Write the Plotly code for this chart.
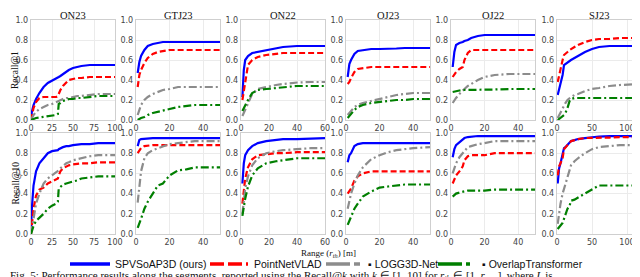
import plotly.graph_objects as go

SEGMENTS = ["ON23", "GTJ23", "ON22", "OJ23", "OJ22", "SJ23"]
METHODS = ["SPVSoAP3D (ours)", "PointNetVLAD", "LOGG3D-Net", "OverlapTransformer"]
X_RANGES = [100, 50, 60, 50, 50, 120]
X_DTICKS = [25, 20, 20, 20, 20, 50]

# ---- ON23 ----
ON23_x = [0, 1, 3, 6, 10, 15, 20, 25, 30, 32, 33, 35, 38, 42, 45, 50, 55, 60, 70, 80, 100]
ON23_r1_spv = [0, 0.08, 0.15, 0.21, 0.27, 0.33, 0.37, 0.39, 0.41, 0.42, 0.43, 0.44, 0.46, 0.48, 0.50, 0.52, 0.53, 0.54, 0.55, 0.55, 0.55]
ON23_r1_pnv = [0, 0.05, 0.12, 0.18, 0.22, 0.23, 0.23, 0.23, 0.23, 0.24, 0.26, 0.30, 0.34, 0.38, 0.40, 0.41, 0.42, 0.42, 0.43, 0.43, 0.43]
ON23_r1_logg = [0, 0.02, 0.05, 0.08, 0.11, 0.13, 0.15, 0.16, 0.18, 0.19, 0.19, 0.20, 0.21, 0.22, 0.22, 0.23, 0.24, 0.24, 0.25, 0.26, 0.26]
ON23_r1_ot = [0, 0.005, 0.01, 0.02, 0.025, 0.03, 0.04, 0.045, 0.05, 0.06, 0.16, 0.17, 0.19, 0.20, 0.21, 0.21, 0.22, 0.22, 0.23, 0.24, 0.24]
ON23_r10_spv = [0.02, 0.25, 0.48, 0.62, 0.70, 0.75, 0.80, 0.82, 0.83, 0.83, 0.84, 0.85, 0.86, 0.87, 0.87, 0.88, 0.885, 0.89, 0.89, 0.90, 0.90]
ON23_r10_pnv = [0, 0.08, 0.25, 0.38, 0.44, 0.46, 0.50, 0.52, 0.54, 0.55, 0.58, 0.62, 0.65, 0.67, 0.68, 0.69, 0.695, 0.70, 0.70, 0.71, 0.71]
ON23_r10_logg = [0, 0.05, 0.18, 0.30, 0.40, 0.50, 0.55, 0.58, 0.61, 0.62, 0.63, 0.65, 0.67, 0.70, 0.71, 0.73, 0.74, 0.75, 0.77, 0.78, 0.78]
ON23_r10_ot = [0, 0.03, 0.08, 0.13, 0.16, 0.20, 0.25, 0.28, 0.30, 0.32, 0.45, 0.47, 0.49, 0.50, 0.51, 0.52, 0.53, 0.55, 0.56, 0.57, 0.57]

# ---- GTJ23 ----
GTJ23_x = [1, 2, 3, 5, 7, 10, 13, 16, 20, 25, 30, 35, 40, 50]
GTJ23_r1_spv = [0.47, 0.58, 0.64, 0.70, 0.74, 0.76, 0.77, 0.78, 0.78, 0.78, 0.78, 0.78, 0.78, 0.78]
GTJ23_r1_pnv = [0.33, 0.45, 0.50, 0.57, 0.62, 0.66, 0.68, 0.69, 0.70, 0.70, 0.70, 0.70, 0.70, 0.70]
GTJ23_r1_logg = [0.05, 0.10, 0.15, 0.20, 0.23, 0.26, 0.28, 0.30, 0.31, 0.33, 0.33, 0.33, 0.33, 0.33]
GTJ23_r1_ot = [0.0, 0.01, 0.02, 0.03, 0.05, 0.07, 0.08, 0.09, 0.11, 0.13, 0.14, 0.15, 0.15, 0.15]
GTJ23_r10_spv = [0.87, 0.93, 0.94, 0.945, 0.95, 0.95, 0.95, 0.95, 0.95, 0.95, 0.95, 0.95, 0.95, 0.95]
GTJ23_r10_pnv = [0.80, 0.83, 0.85, 0.87, 0.875, 0.88, 0.88, 0.88, 0.88, 0.88, 0.88, 0.88, 0.88, 0.88]
GTJ23_r10_logg = [0.31, 0.50, 0.62, 0.75, 0.80, 0.83, 0.85, 0.87, 0.89, 0.90, 0.91, 0.92, 0.92, 0.92]
GTJ23_r10_ot = [0.06, 0.10, 0.15, 0.25, 0.32, 0.40, 0.48, 0.50, 0.58, 0.63, 0.64, 0.66, 0.66, 0.66]

# ---- ON22 ----
ON22_x = [1, 2, 3, 5, 8, 12, 18, 25, 30, 40, 50, 60]
ON22_r1_spv = [0.23, 0.50, 0.60, 0.64, 0.67, 0.68, 0.70, 0.72, 0.73, 0.74, 0.74, 0.74]
ON22_r1_pnv = [0.20, 0.30, 0.40, 0.55, 0.60, 0.63, 0.65, 0.66, 0.67, 0.67, 0.67, 0.67]
ON22_r1_logg = [0.04, 0.07, 0.10, 0.16, 0.26, 0.31, 0.33, 0.35, 0.36, 0.375, 0.38, 0.38]
ON22_r1_ot = [0.09, 0.12, 0.15, 0.20, 0.27, 0.30, 0.31, 0.32, 0.33, 0.34, 0.34, 0.34]
ON22_r10_spv = [0.50, 0.70, 0.78, 0.83, 0.87, 0.90, 0.92, 0.93, 0.94, 0.94, 0.945, 0.95]
ON22_r10_pnv = [0.30, 0.45, 0.55, 0.66, 0.74, 0.78, 0.79, 0.80, 0.80, 0.81, 0.81, 0.81]
ON22_r10_logg = [0.20, 0.35, 0.45, 0.57, 0.68, 0.75, 0.80, 0.82, 0.83, 0.84, 0.85, 0.85]
ON22_r10_ot = [0.18, 0.28, 0.35, 0.47, 0.58, 0.65, 0.70, 0.72, 0.73, 0.75, 0.75, 0.75]

# ---- OJ23 ----
OJ23_x = [1, 2, 3, 5, 7, 10, 15, 20, 25, 30, 35, 40, 50]
OJ23_r1_spv = [0.43, 0.56, 0.60, 0.66, 0.69, 0.70, 0.71, 0.71, 0.71, 0.715, 0.72, 0.72, 0.72]
OJ23_r1_pnv = [0.36, 0.38, 0.42, 0.48, 0.51, 0.52, 0.53, 0.53, 0.53, 0.53, 0.53, 0.53, 0.53]
OJ23_r1_logg = [0.05, 0.07, 0.10, 0.13, 0.15, 0.17, 0.19, 0.21, 0.23, 0.25, 0.26, 0.27, 0.27]
OJ23_r1_ot = [0.02, 0.04, 0.07, 0.10, 0.13, 0.15, 0.17, 0.18, 0.19, 0.20, 0.20, 0.21, 0.21]
OJ23_r10_spv = [0.71, 0.78, 0.80, 0.87, 0.89, 0.90, 0.90, 0.90, 0.90, 0.90, 0.90, 0.90, 0.90]
OJ23_r10_pnv = [0.40, 0.43, 0.45, 0.53, 0.57, 0.60, 0.62, 0.62, 0.62, 0.62, 0.62, 0.62, 0.62]
OJ23_r10_logg = [0.25, 0.33, 0.40, 0.50, 0.58, 0.66, 0.74, 0.78, 0.81, 0.83, 0.84, 0.85, 0.86]
OJ23_r10_ot = [0.09, 0.13, 0.17, 0.25, 0.30, 0.37, 0.42, 0.46, 0.47, 0.48, 0.49, 0.49, 0.49]

# ---- OJ22 ----
OJ22_x = [1, 2, 3, 5, 7, 8, 10, 12, 16, 20, 26, 35, 50]
OJ22_r1_spv = [0.53, 0.68, 0.75, 0.77, 0.78, 0.79, 0.80, 0.82, 0.84, 0.85, 0.85, 0.85, 0.85]
OJ22_r1_pnv = [0.43, 0.46, 0.48, 0.51, 0.53, 0.60, 0.67, 0.70, 0.70, 0.70, 0.70, 0.70, 0.70]
OJ22_r1_logg = [0.17, 0.20, 0.22, 0.26, 0.30, 0.31, 0.34, 0.36, 0.40, 0.43, 0.45, 0.46, 0.46]
OJ22_r1_ot = [0.28, 0.285, 0.29, 0.295, 0.30, 0.30, 0.30, 0.30, 0.30, 0.30, 0.305, 0.31, 0.31]
OJ22_r10_spv = [0.76, 0.84, 0.88, 0.91, 0.94, 0.95, 0.96, 0.965, 0.97, 0.97, 0.97, 0.97, 0.97]
OJ22_r10_pnv = [0.50, 0.55, 0.58, 0.62, 0.67, 0.73, 0.77, 0.78, 0.78, 0.78, 0.80, 0.80, 0.80]
OJ22_r10_logg = [0.60, 0.66, 0.70, 0.76, 0.80, 0.82, 0.86, 0.87, 0.89, 0.90, 0.92, 0.92, 0.92]
OJ22_r10_ot = [0.37, 0.39, 0.40, 0.41, 0.42, 0.425, 0.43, 0.43, 0.43, 0.43, 0.44, 0.44, 0.44]

# ---- SJ23 ----
SJ23_x = [1, 3, 5, 8, 10, 12, 15, 18, 20, 25, 30, 40, 50, 60, 75, 90, 120]
SJ23_r1_spv = [0.25, 0.30, 0.35, 0.45, 0.55, 0.56, 0.58, 0.59, 0.60, 0.62, 0.64, 0.68, 0.71, 0.73, 0.74, 0.74, 0.74]
SJ23_r1_pnv = [0.38, 0.45, 0.52, 0.60, 0.65, 0.66, 0.68, 0.70, 0.71, 0.73, 0.75, 0.78, 0.80, 0.81, 0.81, 0.82, 0.82]
SJ23_r1_logg = [0.02, 0.05, 0.08, 0.12, 0.15, 0.17, 0.20, 0.22, 0.23, 0.25, 0.26, 0.29, 0.31, 0.32, 0.34, 0.35, 0.36]
SJ23_r1_ot = [0.0, 0.01, 0.02, 0.04, 0.05, 0.07, 0.12, 0.19, 0.21, 0.22, 0.22, 0.22, 0.22, 0.22, 0.22, 0.22, 0.22]
SJ23_r10_spv = [0.50, 0.65, 0.70, 0.80, 0.85, 0.86, 0.88, 0.90, 0.92, 0.93, 0.94, 0.95, 0.96, 0.965, 0.97, 0.97, 0.97]
SJ23_r10_pnv = [0.58, 0.67, 0.70, 0.75, 0.84, 0.86, 0.88, 0.90, 0.92, 0.93, 0.94, 0.95, 0.95, 0.95, 0.955, 0.96, 0.96]
SJ23_r10_logg = [0.10, 0.22, 0.30, 0.40, 0.45, 0.50, 0.58, 0.64, 0.68, 0.72, 0.75, 0.80, 0.84, 0.86, 0.87, 0.88, 0.88]
SJ23_r10_ot = [0.05, 0.07, 0.08, 0.11, 0.15, 0.20, 0.25, 0.28, 0.33, 0.34, 0.36, 0.40, 0.44, 0.48, 0.48, 0.48, 0.48]

SEG_X = [ON23_x, GTJ23_x, ON22_x, OJ23_x, OJ22_x, SJ23_x]
SEG_R1 = [
    [ON23_r1_spv, ON23_r1_pnv, ON23_r1_logg, ON23_r1_ot],
    [GTJ23_r1_spv, GTJ23_r1_pnv, GTJ23_r1_logg, GTJ23_r1_ot],
    [ON22_r1_spv, ON22_r1_pnv, ON22_r1_logg, ON22_r1_ot],
    [OJ23_r1_spv, OJ23_r1_pnv, OJ23_r1_logg, OJ23_r1_ot],
    [OJ22_r1_spv, OJ22_r1_pnv, OJ22_r1_logg, OJ22_r1_ot],
    [SJ23_r1_spv, SJ23_r1_pnv, SJ23_r1_logg, SJ23_r1_ot],
]
SEG_R10 = [
    [ON23_r10_spv, ON23_r10_pnv, ON23_r10_logg, ON23_r10_ot],
    [GTJ23_r10_spv, GTJ23_r10_pnv, GTJ23_r10_logg, GTJ23_r10_ot],
    [ON22_r10_spv, ON22_r10_pnv, ON22_r10_logg, ON22_r10_ot],
    [OJ23_r10_spv, OJ23_r10_pnv, OJ23_r10_logg, OJ23_r10_ot],
    [OJ22_r10_spv, OJ22_r10_pnv, OJ22_r10_logg, OJ22_r10_ot],
    [SJ23_r10_spv, SJ23_r10_pnv, SJ23_r10_logg, SJ23_r10_ot],
]

COLORS = ["#0000ff", "#ff0000", "#8c8c8c", "#007f00"]
DASHES = ["solid", "6px,3px", "8px,3px,2px,3px", "8px,3px,2px,3px"]

W, H = 640, 277
PLOT_LEFTS = [23, 128, 233, 338, 443, 549]
PLOT_W = 84
ROWS_PX = [(12, 112), (125, 226)]

# legend layout (pixel positions of sample line start/end and label start)
LEG_Y = 256
LEG_LINES = [(62, 102), (202, 240), (318, 352), (430, 462)]
LEG_TEXT_X = [105, 244, 358, 472]

fig = go.Figure()
SERIF = "Liberation Serif"
SANS = "DejaVu Sans"

layout = dict(
    width=W, height=H, margin=dict(l=0, r=0, t=0, b=0, pad=0, autoexpand=False),
    paper_bgcolor="white", plot_bgcolor="white",
    showlegend=False, hovermode=False,
)
annotations = []
shapes = []
idx = 0
for r, data in enumerate([SEG_R1, SEG_R10]):
    top, bot = ROWS_PX[r]
    for c in range(6):
        idx += 1
        xa = "x" if idx == 1 else f"x{idx}"
        ya = "y" if idx == 1 else f"y{idx}"
        for m in range(4):
            fig.add_trace(go.Scatter(
                x=SEG_X[c], y=data[c][m], mode="lines",
                line=dict(color=COLORS[m], width=2.2, dash=DASHES[m]),
                name=METHODS[m], xaxis=xa, yaxis=ya, hoverinfo="skip",
            ))
        left = PLOT_LEFTS[c]
        axkw = dict(showline=True, mirror=True, linecolor="#cfcfcf", linewidth=1.2,
                    showgrid=True, gridcolor="#ebebeb", gridwidth=1, zeroline=False,
                    ticks="", tickfont=dict(family=SANS, size=8, color="#444444"))
        layout[f"xaxis{'' if idx == 1 else idx}"] = dict(
            domain=[left / W, (left + PLOT_W) / W], anchor=ya,
            range=[0, X_RANGES[c]], dtick=X_DTICKS[c], tick0=0, **axkw)
        layout[f"yaxis{'' if idx == 1 else idx}"] = dict(
            domain=[1 - bot / H, 1 - top / H], anchor=xa,
            range=[0, 1], dtick=0.2, tickformat=".1f", **axkw)
        if r == 0:
            annotations.append(dict(
                text=SEGMENTS[c], x=(left + PLOT_W / 2) / W, y=1 - 0 / H,
                xref="paper", yref="paper", xanchor="center", yanchor="top",
                showarrow=False, font=dict(family=SERIF, size=10.5, color="#111")))

for label, (top, bot) in zip(["Recall@1", "Recall@10"], ROWS_PX):
    annotations.append(dict(
        text=label, x=7 / W, y=1 - (top + bot) / 2 / H, xref="paper", yref="paper",
        xanchor="center", yanchor="middle", textangle=-90, showarrow=False,
        font=dict(family=SERIF, size=9.5, color="#111")))

annotations.append(dict(
    text="Range (<i>r<sub>th</sub></i>) [m]", x=320 / W, y=1 - 245 / H,
    xref="paper", yref="paper", xanchor="center", yanchor="middle",
    showarrow=False, font=dict(family=SERIF, size=9, color="#111")))

annotations.append(dict(
    text="Fig. 5: Performance results along the segments, reported using the Recall@<i>k</i> with <i>k</i> ∈ [1, 10] for <i>r<sub>th</sub></i> ∈ [1, <i>r<sub>max</sub></i>], where <i>L</i> is",
    x=0, y=1 - 268 / H, xref="paper", yref="paper", xanchor="left", yanchor="middle",
    showarrow=False, font=dict(family=SERIF, size=11, color="#111")))

# manual legend
for m in range(4):
    x0, x1 = LEG_LINES[m]
    shapes.append(dict(type="line", xref="paper", yref="paper",
                       x0=x0 / W, x1=x1 / W, y0=1 - LEG_Y / H, y1=1 - LEG_Y / H,
                       line=dict(color=COLORS[m], width=3.5,
                                 dash="solid" if m == 0 else ("14px,4px" if m == 1 else "24px,4px"))))
    annotations.append(dict(
        text=("" if m < 2 else "▪ ") + METHODS[m], x=LEG_TEXT_X[m] / W, y=1 - LEG_Y / H,
        xref="paper", yref="paper", xanchor="left", yanchor="middle", showarrow=False,
        font=dict(family="Liberation Sans", size=10.5, color="#111")))

layout["annotations"] = annotations
layout["shapes"] = shapes
fig.update_layout(**layout)
fig.write_html("out.html", config={"staticPlot": True})
